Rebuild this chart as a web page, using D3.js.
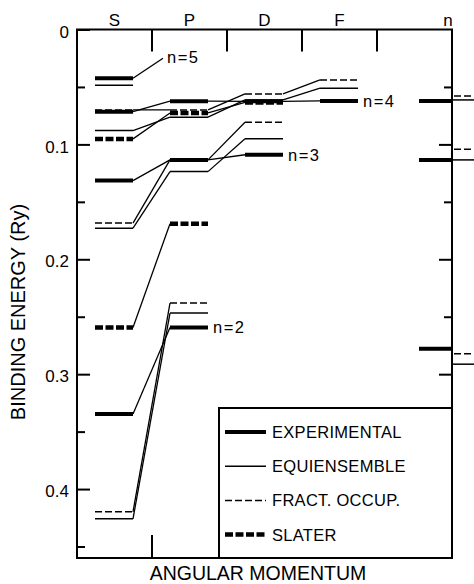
<!DOCTYPE html>
<html>
<head>
<meta charset="utf-8">
<script src="https://cdn.jsdelivr.net/npm/d3@7"></script>
<style>
  body { margin: 0; background: #fff; }
  text { font-family: "Liberation Sans", Arial, sans-serif; fill: #000; }
</style>
</head>
<body>
<div id="chart"></div>
<script>
// angular momentum columns and shells
const categories = ["S", "P", "D", "F"];
const shellNames = ["n=2", "n=3", "n=4", "n=5"];

// binding energies (Ry), one array per shell, indexed by l (S, P, D, F)
const experimental = [[0.3346, 0.2593], [0.1315, 0.1135, 0.109], [0.0715, 0.0624, 0.0625, 0.0622], [0.0424]];
const equiensemble = [[0.4259, 0.2468], [0.1729, 0.1237, 0.095], [0.088, 0.0763, 0.0613, 0.0511], [0.0485]];
const fractOccup = [[0.4198, 0.2381], [0.1685, 0.1135, 0.0807], [0.070, 0.070, 0.0561, 0.0439], []];
const slater = [[0.2593, 0.169], [0.0952, 0.0726, 0.0635], [], []];

// right hand "n" column
const nColExperimental = [0.0622, 0.1135, 0.2778];
const nColFract = [0.0578, 0.1042, 0.2822];
const nColEqui = [0.0613, 0.1135, 0.2913];

const majorTicks = [0, 0.1, 0.2, 0.3, 0.4];
const minorTicks = [0.05, 0.15, 0.25, 0.35, 0.45];

const legendNames = ["EXPERIMENTAL", "EQUIENSEMBLE", "FRACT. OCCUP.", "SLATER"];

const styles = [
    { data: equiensemble, width: 1.5, dash: null },
    { data: fractOccup, width: 1.5, dash: "7,3" },
    { data: experimental, width: 4, dash: null },
    { data: slater, width: 4.5, dash: "8,2.5" }
];
// legend order
const legendStyles = [styles[2], styles[0], styles[1], styles[3]];

var w = 474, h = 584;
var margin = { left: 77, right: 452, top: 29.5, bottom: 558 };

var svg = d3.select("#chart")
    .append("svg")
    .attr("width", w)
    .attr("height", h);

var x = d3.scaleBand().domain(categories.concat(["n"])).range([margin.left, margin.right]);
var y = d3.scaleLinear().domain([0, 0.46]).range([margin.top, margin.bottom]);

var barIn = 18, barOut = 56;

// connectors between columns, then the level bars
var connG = svg.append("g");
var barG = svg.append("g");

styles.forEach(function (s) {
    s.data.forEach(function (shell) {
        shell.forEach(function (v, i) {
            var x0 = x(categories[i]);
            barG.append("line")
                .attr("x1", x0 + barIn).attr("x2", x0 + barOut)
                .attr("y1", y(v)).attr("y2", y(v))
                .attr("stroke", "#000")
                .attr("stroke-width", s.width)
                .attr("stroke-dasharray", s.dash);
            if (i < shell.length - 1) {
                connG.append("line")
                    .attr("x1", x0 + barOut).attr("y1", y(v))
                    .attr("x2", x(categories[i + 1]) + barIn).attr("y2", y(shell[i + 1]))
                    .attr("stroke", "#000")
                    .attr("stroke-width", 1.3);
            }
        });
    });
});

// "n" column
nColExperimental.forEach(function (v) {
    barG.append("line")
        .attr("x1", margin.right - 33).attr("x2", margin.right)
        .attr("y1", y(v)).attr("y2", y(v))
        .attr("stroke", "#000").attr("stroke-width", 4);
});
nColFract.forEach(function (v) {
    barG.append("line")
        .attr("x1", margin.right + 2).attr("x2", w + 5)
        .attr("y1", y(v)).attr("y2", y(v))
        .attr("stroke", "#000").attr("stroke-width", 1.5)
        .attr("stroke-dasharray", "7,3");
});
nColEqui.forEach(function (v) {
    barG.append("line")
        .attr("x1", margin.right).attr("x2", w + 5)
        .attr("y1", y(v)).attr("y2", y(v))
        .attr("stroke", "#000").attr("stroke-width", 1.5);
});

// shell labels next to the last experimental level
experimental.forEach(function (shell, k) {
    var i = shell.length - 1;
    var xe = x(categories[i]) + barOut;
    var ye = y(shell[i]);
    var lx = xe + 5, ly = ye;
    if (k === experimental.length - 1) {
        // n=5 uses a leader line
        lx = xe + 34; ly = ye - 21;
        svg.append("line")
            .attr("x1", xe).attr("y1", ye)
            .attr("x2", lx - 4).attr("y2", ly + 1)
            .attr("stroke", "#000").attr("stroke-width", 1.3);
    }
    svg.append("text")
        .attr("x", lx).attr("y", ly)
        .attr("dy", "0.36em")
        .style("font-size", "16.5px")
        .style("letter-spacing", "1.5px")
        .text(shellNames[k]);
});

// frame
svg.append("rect")
    .attr("x", margin.left).attr("y", margin.top)
    .attr("width", margin.right - margin.left).attr("height", margin.bottom - margin.top)
    .attr("fill", "none").attr("stroke", "#000").attr("stroke-width", 2);

// left axis: labels outside, ticks pointing in
svg.append("g")
    .attr("transform", `translate(${margin.left},0)`)
    .call(d3.axisLeft(y).tickValues(majorTicks).tickSize(-13).tickPadding(8)
        .tickFormat(d => d === 0 ? "0" : d3.format(".1f")(d)))
    .call(g => g.select(".domain").remove())
    .call(g => g.selectAll("line").attr("stroke-width", 2))
    .call(g => g.selectAll("text").style("font-size", "17px")
        .attr("font-family", null).attr("dy", "0.45em"));

svg.append("g")
    .attr("transform", `translate(${margin.left},0)`)
    .call(d3.axisLeft(y).tickValues(minorTicks).tickSize(-8).tickFormat(""))
    .call(g => g.select(".domain").remove())
    .call(g => g.selectAll("line").attr("stroke-width", 2));

// right axis ticks
svg.append("g")
    .attr("transform", `translate(${margin.right},0)`)
    .call(d3.axisLeft(y).tickValues(majorTicks.slice(1)).tickSize(13).tickFormat(""))
    .call(g => g.select(".domain").remove())
    .call(g => g.selectAll("line").attr("stroke-width", 2));

svg.append("g")
    .attr("transform", `translate(${margin.right},0)`)
    .call(d3.axisLeft(y).tickValues(minorTicks).tickSize(8).tickFormat(""))
    .call(g => g.select(".domain").remove())
    .call(g => g.selectAll("line").attr("stroke-width", 2));

// top and bottom column separators
var edges = categories.map(c => x(c) + x.bandwidth());
svg.append("g").selectAll("line")
    .data(edges)
    .enter().append("line")
    .attr("x1", d => d).attr("x2", d => d)
    .attr("y1", margin.top).attr("y2", margin.top + 22)
    .attr("stroke", "#000").attr("stroke-width", 2);
svg.append("g").selectAll("line")
    .data(edges)
    .enter().append("line")
    .attr("x1", d => d).attr("x2", d => d)
    .attr("y1", margin.bottom - 23).attr("y2", margin.bottom)
    .attr("stroke", "#000").attr("stroke-width", 2);

// column labels
svg.append("g").selectAll("text")
    .data(categories.concat(["n"]))
    .enter().append("text")
    .attr("x", d => d === "n" ? margin.right - 4 : x(d) + x.bandwidth() / 2)
    .attr("y", margin.top - 4)
    .attr("text-anchor", "middle")
    .style("font-size", "17px")
    .text(d => d);

// axis titles
svg.append("text")
    .attr("transform", `translate(25,312) rotate(-90)`)
    .attr("text-anchor", "middle")
    .style("font-size", "20px")
    .text("BINDING ENERGY (Ry)");

svg.append("text")
    .attr("x", 258).attr("y", 580)
    .attr("text-anchor", "middle")
    .style("font-size", "19.5px")
    .text("ANGULAR MOMENTUM");

// legend
var lg = svg.append("g");
lg.append("rect")
    .attr("x", 219).attr("y", 408)
    .attr("width", margin.right - 219).attr("height", margin.bottom - 408)
    .attr("fill", "#fff").attr("stroke", "#000").attr("stroke-width", 2);

var rows = lg.selectAll(".row")
    .data(legendNames)
    .enter().append("g")
    .attr("transform", (d, i) => `translate(225,${432 + i * 34.2})`);

rows.append("line")
    .attr("x1", 0).attr("x2", 41)
    .attr("stroke", "#000")
    .attr("stroke-width", (d, i) => legendStyles[i].width)
    .attr("stroke-dasharray", (d, i) => legendStyles[i].dash);

rows.append("text")
    .attr("x", 47).attr("dy", "0.36em")
    .style("font-size", "16.5px")
    .style("letter-spacing", "0.3px")
    .text(d => d);
</script>
</body>
</html>
